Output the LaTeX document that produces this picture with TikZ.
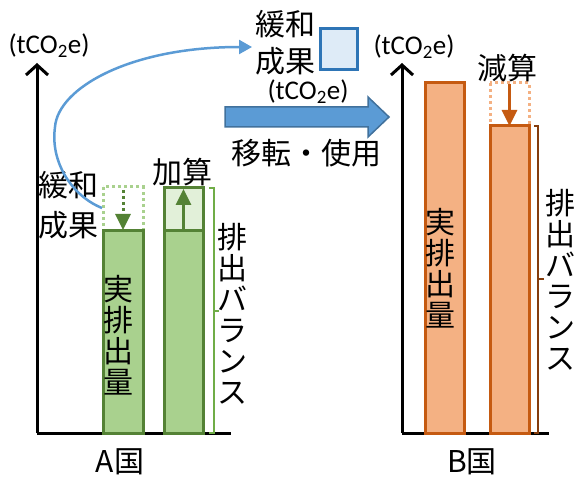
\documentclass[tikz,border=0pt]{standalone}
\usepackage{fontspec}
\setmainfont{Noto Sans CJK JP}
\newfontfamily\latinf{Carlito}
\usetikzlibrary{arrows.meta}
\definecolor{gfill}{HTML}{A9D18E}
\definecolor{gline}{HTML}{548235}
\definecolor{glight}{HTML}{E2F0D9}
\definecolor{gbr}{HTML}{70AD47}
\definecolor{ofill}{HTML}{F4B183}
\definecolor{oline}{HTML}{C55A11}
\definecolor{obr}{HTML}{843C0C}
\definecolor{bfill}{HTML}{5B9BD5}
\definecolor{bline}{HTML}{41719C}
\definecolor{bsq}{HTML}{DEEBF7}
\definecolor{bsqline}{HTML}{2E75B6}
\begin{document}
\begin{tikzpicture}[x=1pt,y=-1pt,
  lbl/.style={inner sep=0pt, font=\fontsize{30}{32}\selectfont},
  vlbl/.style={inner sep=0pt, align=center, font=\fontsize{30}{31}\selectfont},
  unit/.style={inner sep=0pt, font=\latinf\fontsize{27}{29}\selectfont},
  axis/.style={line width=3pt, -{Straight Barb[length=10pt,width=22pt,line width=3pt]}},
  gbar/.style={draw=gline, fill=gfill, line width=3pt},
  obar/.style={draw=oline, fill=ofill, line width=3pt},
  gghost/.style={draw=gfill, line width=3pt, dash pattern=on 3pt off 3pt},
  oghost/.style={draw=ofill, line width=3pt, dash pattern=on 3pt off 3pt},
  brack/.style={line width=2.5pt},
  sqbox/.style={draw=bsqline, fill=bsq, line width=3pt},
  bigarrow/.style={draw=bline, fill=bfill, line width=1.5pt}
]
\useasboundingbox (0,0) rectangle (578,478);

% ---------- Country A ----------
\coordinate (A0) at (37,433);
\coordinate (Atop) at (37,63);
\coordinate (Aend) at (231,433);
\draw[axis] (A0) -- (Atop);
\draw[line width=3pt] (A0) -- (Aend);
\node[unit] (Aunit) at (49,46) {(tCO\textsubscript{2}e)};

% bar 1 (actual emissions) with mitigation ghost
\draw[gghost] (103,187) rectangle (143,231);
\draw[gbar] (103,231) rectangle (143,433);
\coordinate (g1s) at (123,190);
\coordinate (g1e) at (123,230);
\draw[gline, line width=3pt, dash pattern=on 3pt off 3pt, -{Triangle[length=16pt,width=15pt]}] (g1s) -- (g1e);
\node[vlbl] (Areal) at (118,335) {実\\排\\出\\量};

% bar 2 (balance)
\draw[draw=gline, fill=glight, line width=3pt] (164,188) rectangle (203,231);
\draw[gbar] (164,231) rectangle (203,433);
\coordinate (g2s) at (183.5,231);
\coordinate (g2e) at (183.5,189);
\draw[gline, line width=3pt, -{Triangle[length=16pt,width=15pt]}] (g2s) -- (g2e);
\node[lbl] (Aadd) at (182,172) {加算};

% bracket
\draw[gbr, brack] (209,188) -- (214,188) -- (214,433) -- (209,433);
\draw[gbr, brack] (214,311) -- (219,311);
\node[vlbl] (Abal) at (232,314) {排\\出\\バ\\ラ\\ン\\ス};

\node[lbl, align=center, font=\fontsize{30}{40}\selectfont] (Amit) at (68,205) {緩和\\成果};
\node[lbl] (Alab) at (120,462) {A国};

% ---------- transfer ----------
\node[lbl, align=center, font=\fontsize{30}{37}\selectfont] (Tmit) at (285,43) {緩和\\成果};
\node[sqbox, minimum width=37pt, minimum height=41pt, inner sep=0pt] (Tsq) at (339,49) {};
\node[unit] (Tunit) at (308,92) {(tCO\textsubscript{2}e)};
\draw[bigarrow] (225,107) -- (368,107) -- (368,97) -- (389,117) -- (368,137) -- (368,127) -- (225,127) -- cycle;
\node[lbl] (Tuse) at (306,153) {移転・使用};

\coordinate (cs) at (102,208);
\coordinate (cm) at (55,127);
\coordinate (ce) at (252,47);
\draw[bfill, line width=2.5pt, -{Triangle[length=13pt,width=14pt]}]
  (cs) .. controls (72,196) and (50,162) .. (cm)
       .. controls (58,88) and (130,47) .. (ce);

% ---------- Country B ----------
\coordinate (B0) at (402,433);
\coordinate (Btop) at (402,63);
\coordinate (Bend) at (549,433);
\draw[axis] (B0) -- (Btop);
\draw[line width=3pt] (B0) -- (Bend);
\node[unit] (Bunit) at (414,47) {(tCO\textsubscript{2}e)};

\draw[obar] (425,83) rectangle (464,433);
\node[vlbl] (Breal) at (440,268) {実\\排\\出\\量};

\draw[oghost] (490,83) rectangle (529,126);
\draw[obar] (490,126) rectangle (529,433);
\coordinate (o2s) at (509.5,84);
\coordinate (o2e) at (509.5,126);
\draw[oline, line width=3pt, -{Triangle[length=16pt,width=15pt]}] (o2s) -- (o2e);
\node[lbl] (Bsub) at (507,68) {減算};

\draw[obr, brack] (534,126) -- (538,126) -- (538,433) -- (534,433);
\draw[obr, brack] (538,279) -- (544,279);
\node[vlbl] (Bbal) at (560,280) {排\\出\\バ\\ラ\\ン\\ス};

\node[lbl] (Blab) at (472,462) {B国};
\end{tikzpicture}
\end{document}
